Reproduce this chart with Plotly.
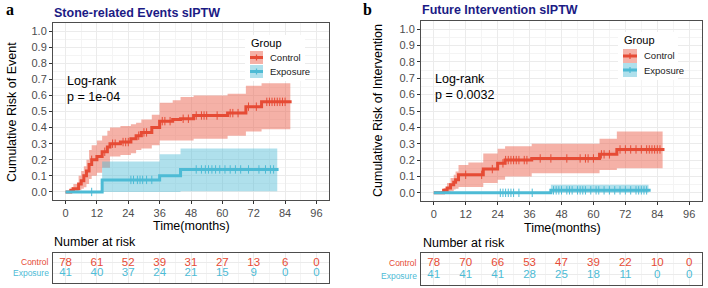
import numpy as np
import plotly.graph_objects as go

# ---------------- data ----------------
# Panel a: Stone-related events (cumulative risk, step curves)
a_ctrl_t = [0, 2, 3, 5, 6, 7, 8, 9, 10, 12, 14, 16, 17, 21, 25, 27, 29, 33, 36, 41, 44, 49, 62, 69, 75]
a_ctrl_est = [0, 0.01, 0.02, 0.05, 0.07, 0.10, 0.13, 0.17, 0.20, 0.22, 0.25, 0.28, 0.30, 0.31, 0.33, 0.35, 0.37, 0.40, 0.44, 0.45, 0.455, 0.475, 0.49, 0.53, 0.56]
a_ctrl_lo = [0, 0, 0, 0.01, 0.02, 0.03, 0.05, 0.08, 0.10, 0.12, 0.15, 0.15, 0.22, 0.23, 0.24, 0.26, 0.27, 0.29, 0.32, 0.32, 0.32, 0.33, 0.35, 0.375, 0.39]
a_ctrl_hi = [0, 0.03, 0.05, 0.10, 0.13, 0.16, 0.20, 0.26, 0.29, 0.32, 0.35, 0.38, 0.40, 0.41, 0.42, 0.43, 0.45, 0.48, 0.555, 0.57, 0.59, 0.60, 0.61, 0.66, 0.675]
a_ctrl_end = 86.5
a_ctrl_cens = [10, 15, 18, 19, 22, 23, 24, 28, 30, 31, 37, 38, 40, 45, 47, 50, 52, 53, 54, 58, 63, 64, 66, 70, 73, 77, 78, 79, 80, 81, 82, 83, 84]

a_exp_t = [0, 14, 36, 44]
a_exp_est = [0, 0.075, 0.10, 0.14]
a_exp_lo = [0, 0, 0, 0.005]
a_exp_hi = [0, 0.19, 0.235, 0.27]
a_exp_end = 81.5
a_exp_cens = [10, 25, 26, 27.5, 28.5, 29.5, 31, 33, 50, 52, 53.5, 54.7, 56, 57.4, 59, 61, 63, 65, 67, 70, 74, 76.5, 78.4, 79.6]

# Panel b: Future intervention
b_ctrl_t = [0, 3.7, 5, 6.3, 7.5, 8.2, 9.3, 13, 18.6, 24, 26.8, 36.8, 62.3, 68.8]
b_ctrl_est = [0, 0.015, 0.03, 0.05, 0.065, 0.08, 0.11, 0.11, 0.145, 0.18, 0.20, 0.21, 0.235, 0.265]
b_ctrl_lo = [0, 0, 0.005, 0.01, 0.02, 0.025, 0.035, 0.035, 0.06, 0.08, 0.10, 0.12, 0.14, 0.15]
b_ctrl_hi = [0, 0.03, 0.06, 0.09, 0.11, 0.13, 0.17, 0.185, 0.24, 0.27, 0.285, 0.30, 0.33, 0.375]
b_ctrl_end = 86.7
b_ctrl_cens = [12, 18, 22, 26, 27, 28, 29, 30, 31, 32, 34, 35, 40, 44, 50, 55, 57, 58, 60, 63, 64, 66, 70, 72, 74, 76, 78, 80, 81, 82, 83, 84, 85]

b_exp_t = [0, 44]
b_exp_est = [0, 0.015]
b_exp_lo = [0, 0]
b_exp_hi = [0, 0.05]
b_exp_end = 81.5
b_exp_cens = [25, 26, 27, 28, 29, 30, 32, 37, 45, 46, 47, 48, 50, 51, 52, 54, 55, 56, 57, 59, 61, 62, 64, 66, 68, 70, 72, 74, 76, 77, 78, 79, 80]

risk_times = [0, 12, 24, 36, 48, 60, 72, 84, 96]
a_risk_ctrl = [78, 61, 52, 39, 31, 27, 13, 6, 0]
a_risk_exp = [41, 40, 37, 24, 21, 15, 9, 0, 0]
b_risk_ctrl = [78, 70, 66, 53, 47, 39, 22, 10, 0]
b_risk_exp = [41, 41, 41, 28, 25, 18, 11, 0, 0]

groups = ["Control", "Exposure"]
titles = ["Stone-related Events sIPTW", "Future Intervention sIPTW"]
ylabels = ["Cumulative Risk of Event", "Cumulative Risk of Intervention"]
pvals = ["p = 1e-04", "p = 0.0032"]
tick_vals = [0, 12, 24, 36, 48, 60, 72, 84, 96]

# ---------------- style ----------------
RED = "#E64B35"
BLUE = "#4DBBD5"
RED_F = "rgba(236,100,80,0.50)"
BLUE_F = "rgba(77,187,213,0.45)"
FONT = "Liberation Sans, Arial, sans-serif"
W, H = 708, 288

def px(x):
    return x / W

def py(y):
    return 1 - y / H

fig = go.Figure()

def step_xy(t, v, end):
    return list(t) + [end], list(v) + [v[-1]]

def add_band(t, lo, hi, band_end, fill, xa, ya):
    tx, hy = step_xy(t, hi, band_end)
    _, ly = step_xy(t, lo, band_end)
    fig.add_trace(go.Scatter(x=tx, y=hy, mode="lines", line=dict(width=0, shape="hv", color=fill),
                             xaxis=xa, yaxis=ya, showlegend=False, hoverinfo="skip"))
    fig.add_trace(go.Scatter(x=tx, y=ly, mode="lines", line=dict(width=0, shape="hv", color=fill),
                             fill="tonexty", fillcolor=fill,
                             xaxis=xa, yaxis=ya, showlegend=False, hoverinfo="skip"))

def add_line(t, est, end, cens, color, xa, ya):
    tx, ey = step_xy(t, est, end)
    fig.add_trace(go.Scatter(x=tx, y=ey, mode="lines", line=dict(width=3, shape="hv", color=color),
                             xaxis=xa, yaxis=ya, showlegend=False))
    ct = np.array(cens, dtype=float)
    idx = np.searchsorted(np.array(t, dtype=float), ct, side="right") - 1
    cy = np.array(est)[idx]
    fig.add_trace(go.Scatter(x=ct, y=cy, mode="markers",
                             marker=dict(symbol="line-ns-open", size=6, color=color,
                                         line=dict(width=1, color=color)),
                             xaxis=xa, yaxis=ya, showlegend=False))

# panel a
add_band(a_ctrl_t, a_ctrl_lo, a_ctrl_hi, 86, RED_F, "x", "y")
add_band(a_exp_t, a_exp_lo, a_exp_hi, 81, BLUE_F, "x", "y")
add_line(a_ctrl_t, a_ctrl_est, a_ctrl_end, a_ctrl_cens, RED, "x", "y")
add_line(a_exp_t, a_exp_est, a_exp_end, a_exp_cens, BLUE, "x", "y")
# panel b
add_band(b_ctrl_t, b_ctrl_lo, b_ctrl_hi, 86, RED_F, "x3", "y3")
add_band(b_exp_t, b_exp_lo, b_exp_hi, 80.7, BLUE_F, "x3", "y3")
add_line(b_ctrl_t, b_ctrl_est, b_ctrl_end, b_ctrl_cens, RED, "x3", "y3")
add_line(b_exp_t, b_exp_est, b_exp_end, b_exp_cens, BLUE, "x3", "y3")

# risk tables
for xa, ya, rc, re in [("x2", "y2", a_risk_ctrl, a_risk_exp), ("x4", "y4", b_risk_ctrl, b_risk_exp)]:
    fig.add_trace(go.Scatter(x=risk_times, y=[2] * len(risk_times), mode="text",
                             text=[str(v) for v in rc], textfont=dict(family=FONT, size=11.5, color=RED),
                             xaxis=xa, yaxis=ya, showlegend=False))
    fig.add_trace(go.Scatter(x=risk_times, y=[1] * len(risk_times), mode="text",
                             text=[str(v) for v in re], textfont=dict(family=FONT, size=11.5, color=BLUE),
                             xaxis=xa, yaxis=ya, showlegend=False))

GRID = "#EBEBEB"
MINOR = "#F4F4F4"
LINEC = "#4D4D4D"

def xaxis_main(dom, anchor):
    return dict(domain=dom, anchor=anchor, range=[-4.8, 100.8], tickvals=tick_vals,
                showgrid=True, gridcolor=GRID, gridwidth=1, zeroline=False,
                minor=dict(dtick=6, tick0=0, showgrid=True, gridcolor=MINOR),
                showline=True, mirror=True, linecolor=LINEC, linewidth=1,
                ticks="outside", ticklen=3, tickcolor="#333",
                tickfont=dict(family=FONT, size=11, color="#4D4D4D"))

def yaxis_main(dom, anchor):
    return dict(domain=dom, anchor=anchor, range=[-0.05, 1.05], dtick=0.1, tick0=0, tickformat=".1f",
                showgrid=True, gridcolor=GRID, zeroline=False,
                minor=dict(dtick=0.05, tick0=0, showgrid=True, gridcolor=MINOR),
                showline=True, mirror=True, linecolor=LINEC, linewidth=1,
                ticks="outside", ticklen=3, tickcolor="#333",
                tickfont=dict(family=FONT, size=11, color="#4D4D4D"))

def xaxis_tab(dom, anchor):
    return dict(domain=dom, anchor=anchor, range=[-4.8, 100.8], tickvals=tick_vals, showticklabels=False,
                showgrid=True, gridcolor=GRID, zeroline=False,
                minor=dict(dtick=6, tick0=0, showgrid=True, gridcolor=MINOR),
                showline=True, mirror=True, linecolor=LINEC, linewidth=1, ticks="")

def yaxis_tab(dom, anchor):
    return dict(domain=dom, anchor=anchor, range=[0.1, 2.9], tickvals=[1, 2], showticklabels=False,
                showgrid=True, gridcolor=GRID, zeroline=False,
                showline=True, mirror=True, linecolor=LINEC, linewidth=1, ticks="")

fig.update_layout(
    width=W, height=H, margin=dict(l=0, r=0, t=0, b=0),
    paper_bgcolor="white", plot_bgcolor="white", showlegend=False,
    xaxis=xaxis_main([px(53), px(329)], "y"),
    yaxis=yaxis_main([py(200), py(23)], "x"),
    xaxis2=xaxis_tab([px(53), px(329)], "y2"),
    yaxis2=yaxis_tab([py(283), py(253)], "x2"),
    xaxis3=xaxis_main([px(421), px(702)], "y3"),
    yaxis3=yaxis_main([py(201), py(21)], "x3"),
    xaxis4=xaxis_tab([px(421), px(702)], "y4"),
    yaxis4=yaxis_tab([py(285), py(253)], "x4"),
)

ann = []
shapes = []

def text(x, y, s, size=12, color="black", xanchor="left", bold=False, family=FONT, angle=0):
    ann.append(dict(x=px(x), y=py(y), xref="paper", yref="paper", text=("<b>%s</b>" % s) if bold else s,
                    showarrow=False, xanchor=xanchor, yanchor="middle", textangle=angle,
                    font=dict(family=family, size=size, color=color)))

# panel labels and titles
text(4, 9, "a", size=16, bold=True, family="Liberation Serif, Times New Roman, serif")
text(361, 9, "b", size=16, bold=True, family="Liberation Serif, Times New Roman, serif")
text(52, 13, titles[0], size=12.5, color="#1B1B85", bold=True)
text(420, 10, titles[1], size=12.5, color="#1B1B85", bold=True)

# axis titles
text(12, 112, ylabels[0], size=12.5, xanchor="center", angle=-90)
text(378, 111, ylabels[1], size=12.5, xanchor="center", angle=-90)
text(191, 226, "Time(months)", size=12.5, xanchor="center")
text(562, 228, "Time(months)", size=12.5, xanchor="center")

# log-rank text
text(65, 81, "Log-rank", size=12.5)
text(65, 97, pvals[0], size=12.5)
text(433, 79, "Log-rank", size=12.5)
text(433, 95, pvals[1], size=12.5)

# number at risk
text(52, 242, "Number at risk", size=12.5)
text(421, 243, "Number at risk", size=12.5)
text(51, 262, groups[0], size=8.5, color=RED, xanchor="right")
text(51, 273, groups[1], size=8.5, color=BLUE, xanchor="right")
text(419, 263, groups[0], size=8.5, color=RED, xanchor="right")
text(419, 276, groups[1], size=8.5, color=BLUE, xanchor="right")

# legends (manual, ggplot-style keys)
def legend(x0, ytitle, yk1, yk2, kw, kh):
    shapes.append(dict(type="rect", xref="paper", yref="paper", x0=px(x0 - 5), x1=px(x0 + 55),
                       y0=py(yk2 + kh + 3), y1=py(ytitle - 8), fillcolor="white", line=dict(width=0), layer="above"))
    text(x0 - 1, ytitle, "Group", size=11)
    for yk, lc, fc, lab in [(yk1, RED, RED_F, groups[0]), (yk2, BLUE, BLUE_F, groups[1])]:
        shapes.append(dict(type="rect", xref="paper", yref="paper", x0=px(x0), x1=px(x0 + kw),
                           y0=py(yk + kh), y1=py(yk), fillcolor=fc, line=dict(width=0), layer="above"))
        shapes.append(dict(type="line", xref="paper", yref="paper", x0=px(x0), x1=px(x0 + kw),
                           y0=py(yk + kh / 2), y1=py(yk + kh / 2), line=dict(color=lc, width=3), layer="above"))
        shapes.append(dict(type="line", xref="paper", yref="paper", x0=px(x0 + kw / 2), x1=px(x0 + kw / 2),
                           y0=py(yk + kh / 2 - 3), y1=py(yk + kh / 2 + 3), line=dict(color=lc, width=1.2), layer="above"))
        text(x0 + kw + 5, yk + kh / 2, lab, size=9.5, color="#1A1A1A")

legend(250, 43, 51, 65, 13, 13)
legend(623, 40, 49, 63, 14, 14)

fig.update_layout(annotations=ann, shapes=shapes)
fig.write_html("out.html", config={"displayModeBar": False},
               post_script="document.body.style.margin='0';document.body.style.padding='0';")
